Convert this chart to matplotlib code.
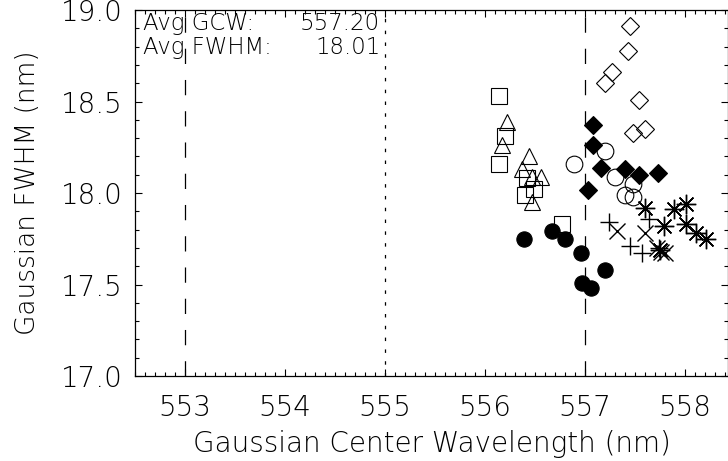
import numpy as np
import matplotlib
matplotlib.use('Agg')
import matplotlib.pyplot as plt
from matplotlib.ticker import MultipleLocator

# Fitted gaussian parameters, one group per symbol
sq_gcw = [556.14, 556.20, 556.14, 556.42, 556.40, 556.49, 556.77]
sq_fwhm = [18.53, 18.31, 18.16, 18.08, 17.99, 18.02, 17.83]

tri_gcw = [556.22, 556.17, 556.44, 556.37, 556.47, 556.56, 556.47]
tri_fwhm = [18.39, 18.26, 18.20, 18.13, 18.09, 18.09, 17.95]

odia_gcw = [557.45, 557.43, 557.27, 557.20, 557.54, 557.48, 557.60]
odia_fwhm = [18.91, 18.775, 18.66, 18.60, 18.51, 18.33, 18.35]

fdia_gcw = [557.08, 557.08, 557.16, 557.40, 557.54, 557.73, 557.03]
fdia_fwhm = [18.37, 18.26, 18.135, 18.13, 18.10, 18.11, 18.015]

ocirc_gcw = [556.89, 557.20, 557.30, 557.48, 557.40, 557.48]
ocirc_fwhm = [18.16, 18.23, 18.085, 18.05, 17.99, 17.98]

fcirc_gcw = [556.39, 556.67, 556.80, 556.96, 557.20, 556.97, 557.06]
fcirc_fwhm = [17.75, 17.79, 17.75, 17.67, 17.58, 17.51, 17.48]

plus_gcw = [557.24, 557.64, 557.45, 557.57, 557.74]
plus_fwhm = [17.84, 17.86, 17.71, 17.67, 17.70]

cross_gcw = [557.32, 557.60, 557.72, 557.76, 557.80]
cross_fwhm = [17.79, 17.78, 17.70, 17.68, 17.67]

ast_gcw = [557.60, 557.89, 558.01, 557.79, 558.01, 558.11, 558.21, 557.75]
ast_fwhm = [17.92, 17.91, 17.94, 17.82, 17.83, 17.78, 17.75, 17.69]

ref_dashed = [553.0, 557.0]
ref_dotted = [555.0]
avg_gcw = 557.20
avg_fwhm = 18.01

plt.rcParams['font.family'] = 'DejaVu Sans'
plt.rcParams['font.weight'] = 'light'
plt.rcParams['axes.labelweight'] = 'light'
plt.rcParams['lines.scale_dashes'] = False

fig = plt.figure(figsize=(7.28, 4.61), dpi=100)
ax = fig.add_axes([135 / 728, 1 - 376 / 461, 593 / 728, 366 / 461])

ax.set_xlim(552.5, 558.43)
ax.set_ylim(17.0, 19.0)

for xv in ref_dashed:
    ax.plot([xv, xv], [17.0, 19.0], color='black', lw=0.9, dashes=(11, 11.5))
for xv in ref_dotted:
    ax.plot([xv, xv], [17.0, 19.0], color='black', lw=0.9, dashes=(2.5, 6))

ew = 0.8
ax.plot(sq_gcw, sq_fwhm, 's', ms=12, mfc='none', mec='black', mew=ew)
ax.plot(tri_gcw, tri_fwhm, '^', ms=12, mfc='none', mec='black', mew=ew)
ax.plot(odia_gcw, odia_fwhm, 'D', ms=8.7, mfc='none', mec='black', mew=ew)
ax.plot(fdia_gcw, fdia_fwhm, 'D', ms=8.7, mfc='black', mec='black', mew=ew)
ax.plot(ocirc_gcw, ocirc_fwhm, 'o', ms=12, mfc='none', mec='black', mew=ew)
ax.plot(fcirc_gcw, fcirc_fwhm, 'o', ms=11, mfc='black', mec='black', mew=ew)
ax.plot(plus_gcw, plus_fwhm, '+', ms=13, mec='black', mew=1.0)
ax.plot(cross_gcw, cross_fwhm, 'x', ms=12, mec='black', mew=1.0)
ax.plot(ast_gcw, ast_fwhm, marker=(8, 2, 0), ls='none', ms=14, mec='black', mew=1.0)

# summary numbers in the upper left corner
tr = ax.transAxes
ax.text(0.013, 0.995, 'Avg GCW:', transform=tr, fontsize=16.5, va='top', ha='left')
ax.text(0.346, 0.995, '%.2f' % avg_gcw, transform=tr, fontsize=16.5, va='top', ha='center')
ax.text(0.013, 0.93, 'Avg FWHM:', transform=tr, fontsize=16.5, va='top', ha='left')
ax.text(0.360, 0.93, '%.2f' % avg_fwhm, transform=tr, fontsize=16.5, va='top', ha='center')

ax.xaxis.set_major_locator(MultipleLocator(1))
ax.xaxis.set_minor_locator(MultipleLocator(0.1))
ax.yaxis.set_major_locator(MultipleLocator(0.5))
ax.yaxis.set_minor_locator(MultipleLocator(0.1))
ax.xaxis.set_major_formatter(plt.FormatStrFormatter('%d'))
ax.yaxis.set_major_formatter(plt.FormatStrFormatter('%.1f'))
ax.tick_params(which='both', direction='in', top=True, right=True, width=0.8, labelsize=20)
ax.tick_params(which='major', length=5)
ax.tick_params(which='minor', length=3)
ax.tick_params(axis='x', pad=13)
ax.tick_params(axis='y', pad=9)
for sp in ax.spines.values():
    sp.set_linewidth(0.9)

ax.set_xlabel('Gaussian Center Wavelength (nm)', fontsize=20, labelpad=6)
ax.set_ylabel('Gaussian FWHM (nm)', fontsize=19)
ax.yaxis.set_label_coords(-0.16, 0.5)

fig.savefig('out.png', dpi=100)
